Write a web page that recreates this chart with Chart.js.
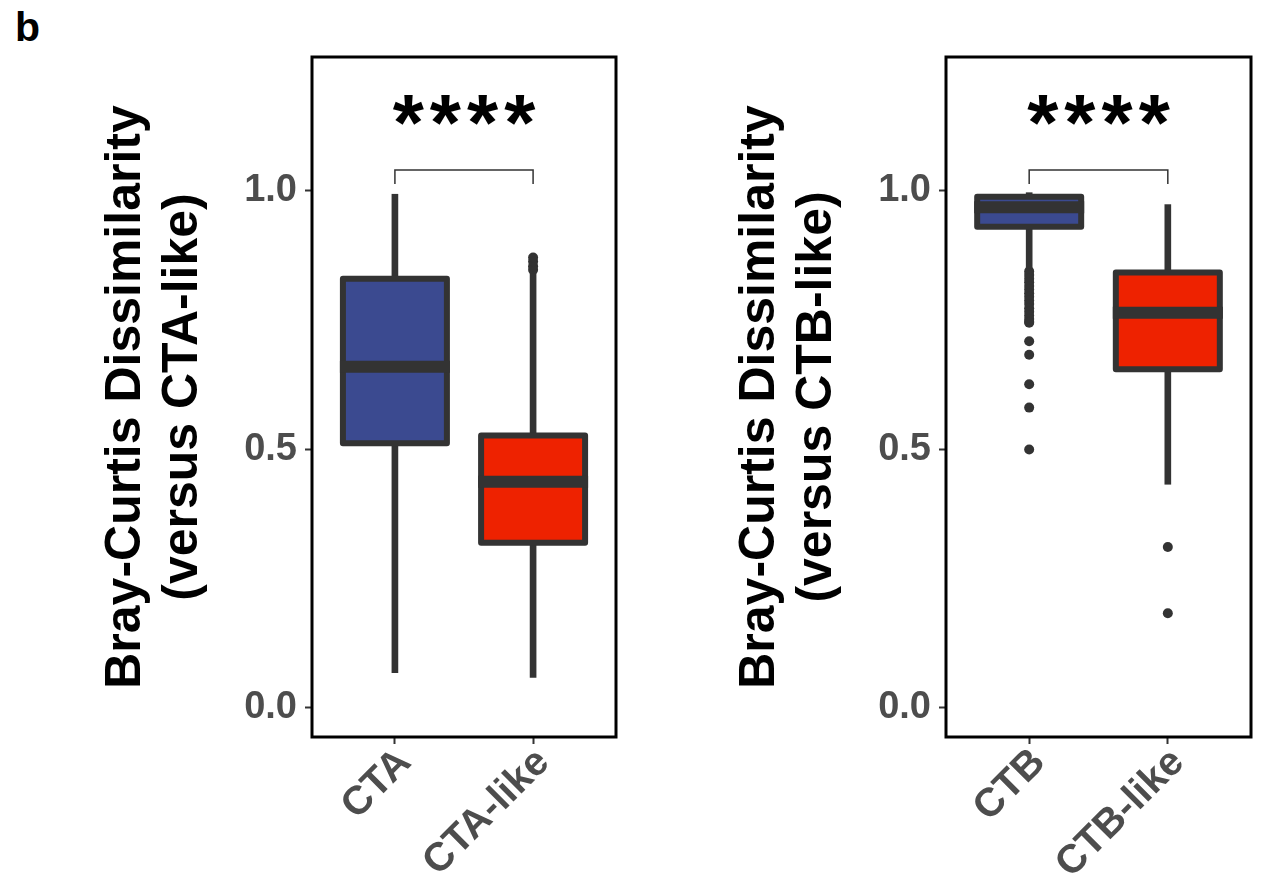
<!DOCTYPE html>
<html>
<head>
<meta charset="utf-8">
<script src="https://cdn.jsdelivr.net/npm/chart.js"></script>
<style>
  html, body { margin: 0; padding: 0; background: #fff; }
  #page { position: relative; width: 1263px; height: 875px; overflow: hidden; background: #fff; }
  .panel { position: absolute; top: 0; }
  #tag { position: absolute; left: 15px; top: 4px; font: bold 41px 'Liberation Sans', Arial, sans-serif; color: #000; }
</style>
</head>
<body>
<div id="page">
  <div id="tag">b</div>
  <div class="panel" style="left:0px;"><canvas id="cA" width="632" height="875"></canvas></div>
  <div class="panel" style="left:634px;"><canvas id="cB" width="629" height="875"></canvas></div>
</div>
<script>
// ---------- data ----------
const yTicks = [0, 0.5, 1.0];

// Panel A : versus CTA-like
const categoriesA = ['CTA', 'CTA-like'];
const whiskerLowA = [0.068, 0.059];
const q1A = [0.511, 0.319];
const medianA = [0.659, 0.437];
const q3A = [0.829, 0.526];
const whiskerHighA = [0.992, 0.838];
const outliersA_CTA = [];
const outliersA_CTAlike = [0.846, 0.853, 0.862, 0.870];
const yTitleA = ['Bray-Curtis Dissimilarity', '(versus CTA-like)'];

// Panel B : versus CTB-like
const categoriesB = ['CTB', 'CTB-like'];
const whiskerLowB = [0.850, 0.432];
const q1B = [0.929, 0.654];
const medianB = [0.967, 0.763];
const q3B = [0.987, 0.841];
const whiskerHighB = [0.995, 0.972];
const outliersB_CTB = [0.843, 0.836, 0.829, 0.822, 0.815, 0.808, 0.801, 0.794, 0.787, 0.780,
                       0.772, 0.765, 0.758, 0.751, 0.746, 0.744, 0.708, 0.682, 0.625, 0.580, 0.499];
const outliersB_CTBlike = [0.311, 0.183];
const yTitleB = ['Bray-Curtis Dissimilarity', '(versus CTB-like)'];

const significance = '****';

// ---------- styling ----------
const FONT = "'Liberation Sans', Arial, Helvetica, sans-serif";
const DARK = '#333333';
const fillColors = ['#3B4A90', '#EE2200'];

const decorPlugin = {
  id: 'boxDecor',
  afterDatasetsDraw(chart, args, opts) {
    const ctx = chart.ctx;
    const xs = chart.scales.x, ys = chart.scales.y;
    ctx.save();
    // box outlines (centered on quartile values) and medians
    const meta = chart.getDatasetMeta(0);
    meta.data.forEach((el, i) => {
      const p = el.getProps(['x', 'y', 'base', 'width'], true);
      const left = p.x - p.width / 2;
      const top = Math.min(p.y, p.base), h = Math.abs(p.base - p.y);
      ctx.strokeStyle = DARK;
      ctx.lineWidth = 6;
      ctx.lineJoin = 'round';
      ctx.strokeRect(left, top, p.width, h);
      const my = ys.getPixelForValue(opts.medians[i]);
      ctx.lineWidth = 12;
      ctx.lineCap = 'butt';
      ctx.beginPath();
      ctx.moveTo(left - 3, my);
      ctx.lineTo(left + p.width + 3, my);
      ctx.stroke();
    });
    // significance bracket
    const x1 = xs.getPixelForValue(1), x2 = xs.getPixelForValue(2);
    const yl = ys.getPixelForValue(opts.bracketLevel), yt = ys.getPixelForValue(opts.bracketTip);
    ctx.strokeStyle = DARK;
    ctx.lineWidth = 1.5;
    ctx.lineJoin = 'miter';
    ctx.beginPath();
    ctx.moveTo(x1, yt); ctx.lineTo(x1, yl); ctx.lineTo(x2, yl); ctx.lineTo(x2, yt);
    ctx.stroke();
    // stars
    ctx.fillStyle = '#000';
    ctx.font = 'bold 80px ' + FONT;
    const sp = 6;
    if ('letterSpacing' in ctx) ctx.letterSpacing = sp + 'px';
    ctx.textAlign = 'center';
    ctx.textBaseline = 'alphabetic';
    ctx.fillText(opts.label, xs.getPixelForValue(1.5) + sp / 2, ys.getPixelForValue(opts.labelLevel));
    if ('letterSpacing' in ctx) ctx.letterSpacing = '0px';
    // panel frame
    const a = chart.chartArea;
    ctx.strokeStyle = '#000';
    ctx.lineWidth = 3;
    ctx.strokeRect(a.left, a.top, a.right - a.left, a.bottom - a.top);
    ctx.restore();
  }
};

function makePanel(canvasId, cats, wLow, q1, med, q3, wHigh, out1, out2, title, rightPad) {
  const boxData = cats.map((c, i) => ({ x: i + 1, y: [q1[i], q3[i]] }));
  const lowData = cats.map((c, i) => ({ x: i + 1, y: [wLow[i], q1[i]] }));
  const highData = cats.map((c, i) => ({ x: i + 1, y: [q3[i], wHigh[i]] }));
  const outData = out1.map(v => ({ x: 1, y: v })).concat(out2.map(v => ({ x: 2, y: v })));
  return new Chart(document.getElementById(canvasId), {
    type: 'bar',
    data: {
      datasets: [
        { label: 'box', data: boxData, backgroundColor: fillColors, borderWidth: 0,
          barThickness: 104, grouped: false, order: 1 },
        { label: 'whiskerLow', data: lowData, backgroundColor: DARK, borderWidth: 0,
          barThickness: 6, grouped: false, order: 2 },
        { label: 'whiskerHigh', data: highData, backgroundColor: DARK, borderWidth: 0,
          barThickness: 6, grouped: false, order: 2 },
        { type: 'scatter', label: 'outliers', data: outData, pointRadius: 5, pointBorderWidth: 0,
          pointBackgroundColor: DARK, pointHoverRadius: 5, order: 3 }
      ]
    },
    options: {
      responsive: false,
      animation: false,
      devicePixelRatio: 1,
      layout: { padding: { left: 0, top: 57, right: rightPad, bottom: 0 }, autoPadding: false },
      plugins: {
        legend: { display: false },
        tooltip: { enabled: false },
        boxDecor: { medians: med, bracketLevel: 1.039, bracketTip: 1.012, label: significance, labelLevel: 1.078 }
      },
      scales: {
        x: {
          type: 'linear', min: 0.4, max: 2.6, offset: false,
          afterBuildTicks: s => { s.ticks = cats.map((c, i) => ({ value: i + 1 })); },
          afterFit: s => { s.height = 138; },
          ticks: {
            autoSkip: false, minRotation: 45, maxRotation: 45, padding: 1, labelOffset: 10,
            callback: v => cats[Math.round(v) - 1],
            color: '#4d4d4d',
            font: { family: FONT, size: 40, weight: 'bold', lineHeight: 0.8 }
          },
          grid: { display: true, drawOnChartArea: false, drawTicks: true, tickLength: 7,
                  tickWidth: 2, tickColor: DARK, offset: false },
          border: { display: false }
        },
        y: {
          type: 'linear', min: -0.056, max: 1.257,
          afterBuildTicks: s => { s.ticks = yTicks.map(v => ({ value: v })); },
          afterFit: s => { s.width = 312; },
          ticks: {
            padding: 8, color: '#4d4d4d',
            callback: v => Number(v).toFixed(1),
            font: { family: FONT, size: 38, weight: 'bold' }
          },
          grid: { display: true, drawOnChartArea: false, drawTicks: true, tickLength: 7,
                  tickWidth: 2, tickColor: DARK },
          border: { display: false },
          title: {
            display: true, text: title, color: '#000',
            font: { family: FONT, size: 50, weight: 'bold', lineHeight: 1.14 },
            padding: { top: 98, bottom: 0 }
          }
        }
      }
    },
    plugins: [decorPlugin]
  });
}

makePanel('cA', categoriesA, whiskerLowA, q1A, medianA, q3A, whiskerHighA,
          outliersA_CTA, outliersA_CTAlike, yTitleA, 16);
makePanel('cB', categoriesB, whiskerLowB, q1B, medianB, q3B, whiskerHighB,
          outliersB_CTB, outliersB_CTBlike, yTitleB, 12);
</script>
</body>
</html>
